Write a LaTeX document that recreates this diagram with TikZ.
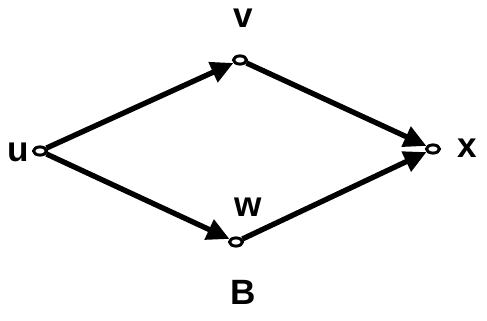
\documentclass[tikz,border=0pt]{standalone}
\usepackage{fontspec}
\setmainfont{Liberation Sans}
\usetikzlibrary{arrows.meta, positioning, shapes.geometric}

\tikzset{
  vertex/.style={draw, ellipse, fill=white, line width=2pt, inner sep=0pt,
    minimum width=0.32cm, minimum height=0.2cm},
  edge/.style={line width=3.8pt, -{Triangle[length=16pt, width=15pt]}},
  lbl/.style={font=\fontsize{25}{30}\selectfont\bfseries}
}

\begin{document}
\begin{tikzpicture}
      \useasboundingbox (0,0) rectangle (12.175,8.025);
      % vertices
      \node[vertex] (u) at (1.0, 4.25) {};
      \node[vertex] (v) at (6.0, 6.525) {};
      \node[vertex] (w) at (5.9, 1.975) {};
      \node[vertex] (x) at (10.825, 4.3) {};
      % arcs
      \draw[edge] (u) -- (v);
      \draw[edge] (u) -- (w);
      \draw[edge] (v) -- (x);
      \draw[edge] (w) -- (x);
      \node[vertex] at (u) {};
      \node[vertex] at (v) {};
      \node[vertex] at (w) {};
      \node[vertex] at (x) {};
      % labels
      \node[lbl] (ulbl) at (0.45, 4.225) {u};
      \node[lbl] (vlbl) at (6.075, 7.575) {v};
      \node[lbl] (wlbl) at (6.2, 2.85) {w};
      \node[lbl] (xlbl) at (11.675, 4.325) {x};
      \node[lbl] (blbl) at (6.075, 0.725) {B};
    \end{tikzpicture}
\end{document}
